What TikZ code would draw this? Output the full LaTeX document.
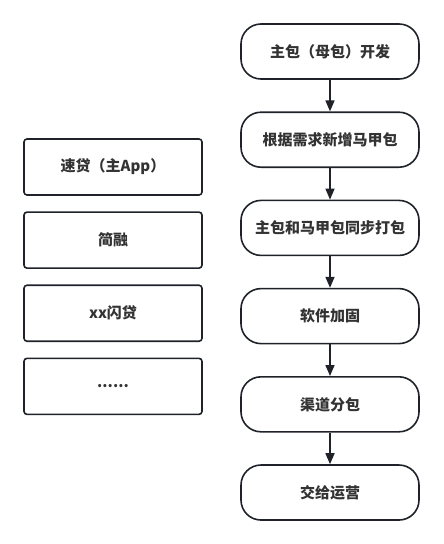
\documentclass[tikz,border=0pt]{standalone}
\usepackage{fontspec}
\setmainfont{Noto Sans CJK SC}
\usetikzlibrary{arrows.meta}
\definecolor{linecol}{HTML}{1F2329}
\definecolor{textcol}{HTML}{333333}
\begin{document}
\begin{tikzpicture}[x=1pt,y=1pt]

% definitions
\tikzstyle{stage} = [rectangle, rounded corners=20pt, minimum width=178pt, minimum height=55pt, text centered, draw=linecol, line width=1.6pt, fill=white, text=textcol, font=\fontsize{15}{17}\selectfont\bfseries]

\tikzstyle{app} = [rectangle, rounded corners=3pt, minimum width=178pt, minimum height=56pt, text centered, draw=linecol, line width=1.6pt, fill=white, text=textcol, font=\fontsize{15}{17}\selectfont\bfseries]

\tikzstyle{arrow} = [-{Triangle[length=11pt,width=9pt]}, draw=linecol, line width=1.6pt]

\useasboundingbox (0,0) rectangle (444,-544);

% the flow
\node (s0) [stage] at (330,-51.5) {主包（母包）开发};

\node (s1) [stage, below of=s0, yshift=-2.1cm] {根据需求新增马甲包};

\node (s2) [stage, below of=s1, yshift=-2.1cm] {主包和马甲包同步打包};

\node (s3) [stage, below of=s2, yshift=-2.1cm] {软件加固};

\node (s4) [stage, below of=s3, yshift=-2.1cm] {渠道分包};

\node (s5) [stage, below of=s4, yshift=-2.1cm] {交给运营};

\draw [arrow] (s0) -- (s1);
\draw [arrow] (s1) -- (s2);
\draw [arrow] (s2) -- (s3);
\draw [arrow] (s3) -- (s4);
\draw [arrow] (s4) -- (s5);

% the apps
\node (a0) [app] at (113,-167) {速贷（主App）};

\node (a1) [app, below of=a0, yshift=-1.57cm] {简融};

\node (a2) [app, below of=a1, yshift=-1.57cm] {xx闪贷};

\node (a3) [app, below of=a2, yshift=-1.57cm] {......};

\end{tikzpicture}
\end{document}
